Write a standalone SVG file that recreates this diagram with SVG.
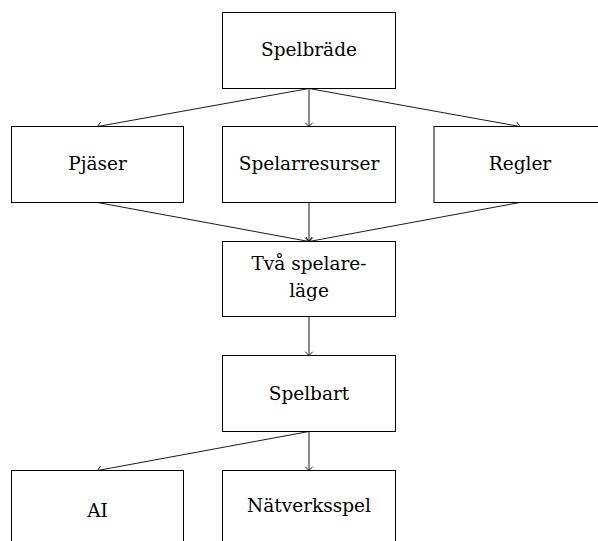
<svg xmlns="http://www.w3.org/2000/svg" width="598" height="541" viewBox="0 0 598 541">
<defs>
<style>
.box{fill:#fff;stroke:#000;stroke-width:1}
.t{font-family:"DejaVu Serif","Liberation Serif",serif;font-size:18.5px;fill:#000;text-anchor:middle}
.c{stroke:#000;stroke-width:0.9;fill:none;marker-end:url(#ah)}
</style>
<marker id="ah" viewBox="-5 -5 6 10" refX="0" refY="0" markerWidth="6" markerHeight="10" markerUnits="userSpaceOnUse" orient="auto">
<path d="M-3.5,-3.5 Q-0.8,-0.8 0,0 Q-0.8,0.8 -3.5,3.5" fill="none" stroke="#000" stroke-width="0.9" stroke-linecap="round"/>
</marker>
</defs>
<rect width="598" height="541" fill="#fff"/>
<g id="connectors">
<line class="c" x1="309" y1="88.5" x2="97.5" y2="126.5"/>
<line class="c" x1="309" y1="88.5" x2="309" y2="126.5"/>
<line class="c" x1="309" y1="88.5" x2="520" y2="126.5"/>
<line class="c" x1="97.5" y1="202.5" x2="309" y2="241.5"/>
<line class="c" x1="309" y1="202.5" x2="309" y2="241.5"/>
<line class="c" x1="520" y1="202.5" x2="309" y2="241.5"/>
<line class="c" x1="309" y1="316.5" x2="309" y2="355.5"/>
<line class="c" x1="309" y1="431.5" x2="97.5" y2="470.5"/>
<line class="c" x1="309" y1="431.5" x2="309" y2="470.5"/>
</g>
<g id="spelbrade"><rect class="box" x="222.5" y="12.5" width="173" height="76"/><text class="t" x="309" y="55.5">Spelbräde</text></g>
<g id="pjaser"><rect class="box" x="11.5" y="126.5" width="172" height="76"/><text class="t" x="97.5" y="170">Pjäser</text></g>
<g id="spelarresurser"><rect class="box" x="222.5" y="126.5" width="173" height="76"/><text class="t" x="309" y="170">Spelarresurser</text></g>
<g id="regler"><rect class="box" x="434" y="126.5" width="172" height="76"/><text class="t" x="520" y="170">Regler</text></g>
<g id="tvaspelare"><rect class="box" x="222.5" y="241.5" width="173" height="75"/><text class="t" x="309" y="270">Två spelare-</text><text class="t" x="309" y="297">läge</text></g>
<g id="spelbart"><rect class="box" x="222.5" y="355.5" width="173" height="76"/><text class="t" x="309" y="400">Spelbart</text></g>
<g id="ai"><rect class="box" x="11.5" y="470.5" width="172" height="76"/><text class="t" x="97.5" y="516.5">AI</text></g>
<g id="natverksspel"><rect class="box" x="222.5" y="470.5" width="173" height="76"/><text class="t" x="309" y="512">Nätverksspel</text></g>
</svg>
